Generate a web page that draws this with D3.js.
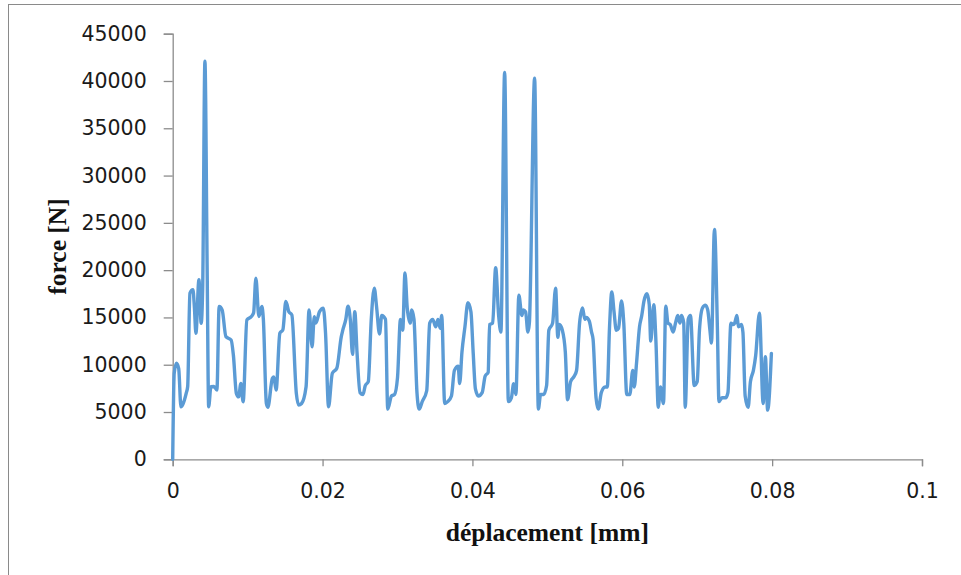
<!DOCTYPE html>
<html>
<head>
<meta charset="utf-8">
<script src="https://cdn.jsdelivr.net/npm/d3@7"></script>
<style>
  html, body { margin: 0; padding: 0; background: #fff; }
  svg { display: block; }
</style>
</head>
<body>
<svg id="chart" width="961" height="575"></svg>
<script>
// ---- data ----
const displacement = [
  0, 0.0002, 0.0005, 0.0008, 0.0011, 0.0014, 0.0018, 0.0020, 0.0023, 0.0027,
  0.0029, 0.0031, 0.0035, 0.0038, 0.0040, 0.0043, 0.0046, 0.0048, 0.0051, 0.0055,
  0.0059, 0.0062, 0.0066, 0.0071, 0.0078, 0.0081, 0.0085, 0.0088, 0.0091, 0.0094,
  0.0099, 0.0105, 0.0108, 0.0111, 0.0115, 0.0119, 0.0121, 0.0125, 0.0127, 0.0133,
  0.0135, 0.0138, 0.0143, 0.0147, 0.0151, 0.0155, 0.0159, 0.0165, 0.0168, 0.0172,
  0.0178, 0.0182, 0.0186, 0.0189, 0.0191, 0.0196, 0.0201, 0.0204, 0.0208, 0.0213,
  0.0219, 0.0225, 0.0227, 0.0231, 0.0234, 0.0237, 0.0240, 0.0243, 0.0246, 0.0250,
  0.0254, 0.0257, 0.0261, 0.0265, 0.0269, 0.0272, 0.0276, 0.0279, 0.0284, 0.0287,
  0.0292, 0.0296, 0.0300, 0.0304, 0.0307, 0.0310, 0.0313, 0.0317, 0.0319, 0.0322,
  0.0326, 0.0329, 0.0333, 0.0339, 0.0343, 0.0347, 0.0351, 0.0354, 0.0357, 0.0359,
  0.0363, 0.0367, 0.0372, 0.0376, 0.0381, 0.0383, 0.0386, 0.0390, 0.0394, 0.0398,
  0.0401, 0.0404, 0.0408, 0.0413, 0.0417, 0.0421, 0.0423, 0.0427, 0.0431, 0.0435,
  0.0438, 0.0443, 0.0448, 0.0452, 0.0455, 0.0458, 0.0462, 0.0466, 0.0468, 0.0471,
  0.0474, 0.0476, 0.0483, 0.0488, 0.0491, 0.0495, 0.0499, 0.0502, 0.0507, 0.0511,
  0.0514, 0.0516, 0.0520, 0.0524, 0.0527, 0.0531, 0.0536, 0.0539, 0.0543, 0.0547,
  0.0550, 0.0552, 0.0556, 0.0559, 0.0561, 0.0565, 0.0568, 0.0572, 0.0577, 0.0580,
  0.0583, 0.0586, 0.0589, 0.0592, 0.0595, 0.0599, 0.0602, 0.0606, 0.0610, 0.0614,
  0.0616, 0.0619, 0.0623, 0.0626, 0.0629, 0.0633, 0.0636, 0.0638, 0.0642, 0.0645,
  0.0648, 0.0651, 0.0655, 0.0658, 0.0661, 0.0664, 0.0668, 0.0671, 0.0674, 0.0677,
  0.0679, 0.0682, 0.0684, 0.0688, 0.0691, 0.0696, 0.0700, 0.0703, 0.0707, 0.0711,
  0.0714, 0.0717, 0.0719, 0.0723, 0.0727, 0.0729, 0.0733, 0.0738, 0.0741, 0.0745,
  0.0748, 0.0750, 0.0753, 0.0755, 0.0759, 0.0761, 0.0764, 0.0768, 0.0771, 0.0775,
  0.0778, 0.0783, 0.0788, 0.0791, 0.0794, 0.0799
];
const force = [
  0, 9100, 10150, 9600, 5550, 5900, 6970, 7700, 17570, 17920,
  16000, 13330, 18980, 14390, 18000, 42100, 20000, 5550, 7670, 7700,
  7320, 16150, 15800, 12970, 12620, 11000, 6970, 6600, 8030, 6080,
  14740, 15100, 15500, 19160, 15100, 16150, 14800, 5900, 5500, 8560,
  8700, 7320, 13330, 13680, 16680, 15600, 15270, 6970, 5730, 5900,
  7670, 15800, 11900, 15090, 14400, 15620, 15980, 13300, 5550, 9090,
  9620, 12970, 13650, 14800, 16200, 14800, 11100, 15600, 11300, 7050,
  6850, 7800, 8200, 14800, 18100, 16200, 13250, 15200, 14800, 5300,
  6700, 6850, 8600, 14800, 13650, 19700, 16000, 14400, 15800, 14800,
  7050, 5300, 6100, 7250, 14400, 14800, 14000, 14800, 13850, 15200,
  5900, 6100, 6700, 9400, 9850, 8000, 11300, 14000, 16550, 15600,
  11300, 7450, 6700, 7050, 8800, 9200, 14250, 14400, 20250, 15200,
  13450, 40900, 6100, 6500, 8000, 6850, 17350, 15200, 15800, 15600,
  13450, 14400, 40300, 5300, 6850, 6850, 7800, 13650, 14400, 18100,
  12900, 14250, 13650, 11300, 6300, 8200, 8800, 9400, 14400, 16000,
  14800, 15000, 14600, 13450, 12700, 6500, 5300, 7050, 7650, 7650,
  14000, 17700, 15600, 13650, 13850, 16750, 14400, 6850, 6850, 9400,
  7650, 10150, 14000, 15200, 16750, 17500, 16350, 12500, 16350, 12300,
  5500, 7650, 5900, 16200, 14400, 14250, 13450, 14400, 15200, 14400,
  15200, 14400, 5500, 14800, 15200, 7800, 8200, 13650, 16000, 16300,
  15800, 13650, 12300, 24300, 13650, 6100, 6500, 6500, 7050, 14400,
  14250, 14400, 15200, 14000, 14250, 13450, 6700, 5500, 8200, 9400,
  10950, 15450, 5900, 10850, 5200, 11200
];
const xTicks = [0, 0.02, 0.04, 0.06, 0.08, 0.1];
const xTickLabels = ["0", "0.02", "0.04", "0.06", "0.08", "0.1"];
const yTicks = [0, 5000, 10000, 15000, 20000, 25000, 30000, 35000, 40000, 45000];
const yTickLabels = ["0", "5000", "10000", "15000", "20000", "25000", "30000", "35000", "40000", "45000"];
const xTitle = "déplacement [mm]";
const yTitle = "force [N]";

// ---- layout ----
const svg = d3.select("#chart");
const plotLeft = 172.7, plotRight = 922, plotTop = 33.7, plotBottom = 459.3;
const axisColor = "#8c8c8c";

// outer chart frame (clipped by the window on right/bottom)
svg.append("rect")
  .attr("x", 8.5).attr("y", 4.5)
  .attr("width", 1000).attr("height", 1000)
  .attr("fill", "none").attr("stroke", "#8a8a8a").attr("stroke-width", 1);

const x = d3.scaleLinear().domain([0, 0.1]).range([plotLeft, plotRight]);
const y = d3.scaleLinear().domain([0, 45000]).range([plotBottom, plotTop]);

// y axis
const yAxis = svg.append("g")
  .attr("transform", `translate(${plotLeft},0)`)
  .call(d3.axisLeft(y).tickValues(yTicks)
    .tickFormat((d, i) => yTickLabels[i]).tickSize(9).tickPadding(17));
// x axis
const xAxis = svg.append("g")
  .attr("transform", `translate(0,${plotBottom})`)
  .call(d3.axisBottom(x).tickValues(xTicks)
    .tickFormat((d, i) => xTickLabels[i]).tickSize(7).tickPadding(17));

[yAxis, xAxis].forEach(g => {
  g.selectAll("path.domain").attr("stroke", axisColor).attr("stroke-width", 1.3);
  g.selectAll(".tick line").attr("stroke", axisColor).attr("stroke-width", 1.3);
  g.selectAll(".tick text")
    .attr("fill", "#1a1a1a")
    .style("font-family", "'DejaVu Sans', sans-serif")
    .style("font-size", "20.5px");
});
xAxis.selectAll(".tick text").attr("dy", "0.71em");

// data line
const pts = displacement.map((d, i) => [d, force[i]]);
const line = d3.line()
  .x(d => x(d[0]))
  .y(d => y(d[1]))
  .curve(d3.curveMonotoneX);

svg.append("path")
  .datum(pts)
  .attr("d", line)
  .attr("fill", "none")
  .attr("stroke", "#5b9bd5")
  .attr("stroke-width", 3.4)
  .attr("stroke-linejoin", "round")
  .attr("stroke-linecap", "round");

// axis titles
svg.append("text")
  .attr("x", (plotLeft + plotRight) / 2)
  .attr("y", 541)
  .attr("text-anchor", "middle")
  .style("font-family", "'Liberation Serif', 'Times New Roman', serif")
  .style("font-weight", "bold")
  .style("font-size", "25.5px")
  .attr("fill", "#111")
  .text(xTitle);

svg.append("text")
  .attr("transform", `translate(66,${(plotTop + plotBottom) / 2}) rotate(-90)`)
  .attr("text-anchor", "middle")
  .style("font-family", "'Liberation Serif', 'Times New Roman', serif")
  .style("font-weight", "bold")
  .style("font-size", "25.5px")
  .attr("fill", "#111")
  .text(yTitle);
</script>
</body>
</html>
